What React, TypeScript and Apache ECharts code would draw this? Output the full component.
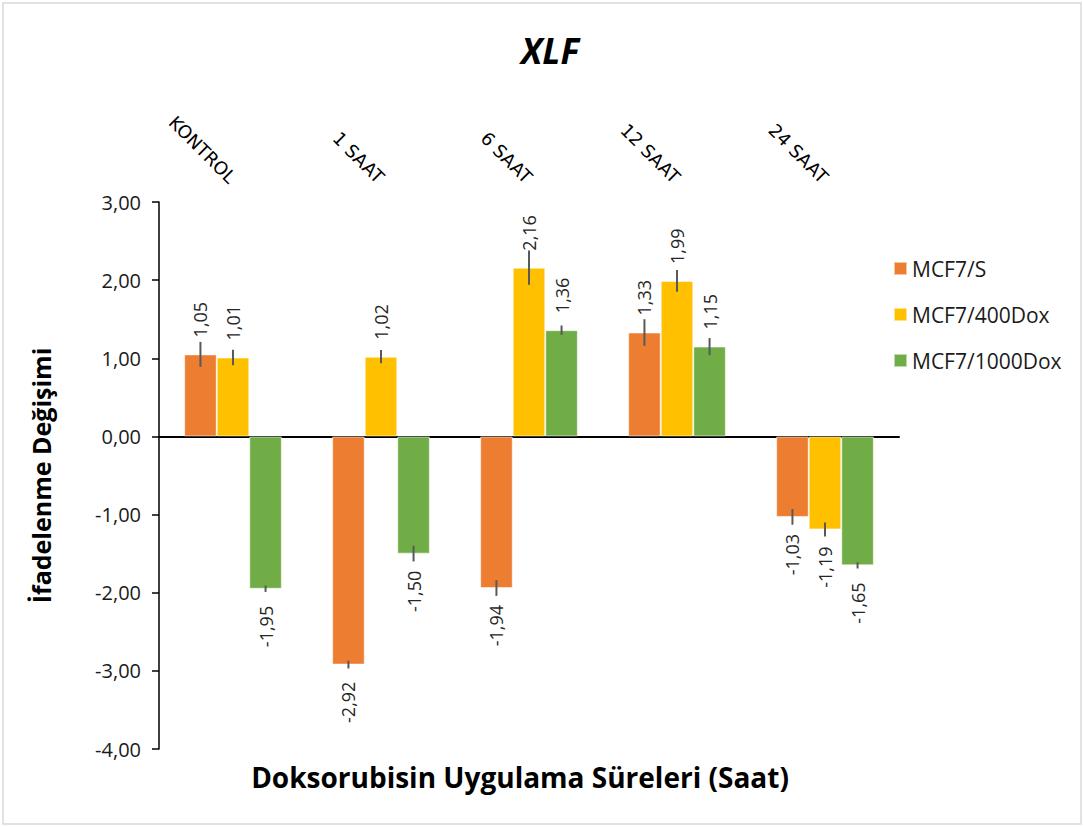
import React, { useEffect, useRef } from "react";
import * as echarts from "echarts";

const categories = ["KONTROL", "1 SAAT", "6 SAAT", "12 SAAT", "24 SAAT"];
const seriesNames = ["MCF7/S", "MCF7/400Dox", "MCF7/1000Dox"];
const colors = ["#ED7D31", "#FFC000", "#70AD47"];
const valuesS = [1.05, -2.92, -1.94, 1.33, -1.03];
const values400 = [1.01, 1.02, 2.16, 1.99, -1.19];
const values1000 = [-1.95, -1.5, 1.36, 1.15, -1.65];
const errS = [0.16, 0.05, 0.1, 0.17, 0.1];
const err400 = [0.1, 0.085, 0.22, 0.14, 0.09];
const err1000 = [0.04, 0.1, 0.06, 0.11, 0.04];
const yTicks = { min: -4, max: 3, interval: 1 };

const allValues = [valuesS, values400, values1000];
const allErrors = [errS, err400, err1000];
const GAP = 0.34;

const fmt = (v: number) => v.toFixed(2).replace(".", ",");

export default function App() {
  const ref = useRef<HTMLDivElement>(null);
  useEffect(() => {
    if (!ref.current) return;
    const chart = echarts.init(ref.current, undefined, { renderer: "svg" });
    const barSeries = allValues.map((vals, si) => ({
      type: "bar",
      name: seriesNames[si],
      xAxisIndex: 0,
      yAxisIndex: 0,
      barGap: "0%",
      barCategoryGap: GAP * 100 + "%",
      itemStyle: { color: colors[si], borderColor: "rgba(255,255,255,0.55)", borderWidth: 1 },
      z: 2,
      label: {
        show: true,
        rotate: 90,
        distance: 17,
        fontFamily: "Open Sans",
        fontSize: 18,
        color: "#262626",
        verticalAlign: "middle",
        formatter: (p: any) => fmt(p.value),
      },
      data: vals.map((v) => ({
        value: v,
        label: v >= 0 ? { position: "top", align: "left" } : { position: "bottom", align: "right" },
      })),
    }));
    const errSeries = allValues.map((vals, si) => ({
      type: "custom",
      name: seriesNames[si] + " err",
      xAxisIndex: 0,
      yAxisIndex: 0,
      z: 5,
      silent: true,
      clip: false,
      encode: { x: 0, y: [1, 2] },
      renderItem: (params: any, api: any) => {
        const ci = api.value(0);
        const lo = api.coord([ci, api.value(1)]);
        const hi = api.coord([ci, api.value(2)]);
        const band = api.size([1, 0])[0];
        const bw = (band * (1 - GAP)) / 3;
        const x = lo[0] + (si - 1) * bw;
        return {
          type: "line",
          shape: { x1: x, y1: lo[1], x2: x, y2: hi[1] },
          style: { stroke: "#595959", lineWidth: 2 },
        };
      },
      data: vals.map((v, i) => [i, v - allErrors[si][i], v + allErrors[si][i]]),
    }));
    chart.setOption({
      animation: false,
      backgroundColor: "#ffffff",
      title: {
        text: "XLF",
        left: 545,
        top: 28,
        textAlign: "center",
        textStyle: { fontFamily: "Open Sans", fontSize: 35, fontWeight: "bold", fontStyle: "italic", color: "#000" },
      },
      legend: {
        data: seriesNames,
        orient: "vertical",
        left: 888,
        top: 253,
        itemWidth: 13,
        itemHeight: 13,
        itemGap: 25,
        icon: "rect",
        textStyle: { fontFamily: "Open Sans", fontSize: 21, color: "#1a1a1a" },
      },
      grid: { left: 159, right: 185, top: 202, bottom: 78, containLabel: false },
      xAxis: [
        {
          type: "category",
          data: categories,
          position: "top",
          axisLine: { show: false, onZero: false },
          axisTick: { show: false },
          axisLabel: {
            rotate: 45,
            margin: 22,
            align: "right",
            fontFamily: "DejaVu Sans",
            fontSize: 18,
            color: "#000",
          },
        },
        {
          type: "category",
          data: categories,
          position: "bottom",
          axisLine: { show: true, onZero: true, lineStyle: { color: "#000", width: 2 } },
          axisTick: { show: false },
          axisLabel: { show: false },
        },
      ],
      yAxis: {
        type: "value",
        min: yTicks.min,
        max: yTicks.max,
        interval: yTicks.interval,
        name: "İfadelenme Değişimi",
        nameLocation: "middle",
        nameGap: 106,
        nameTextStyle: { fontFamily: "Open Sans", fontSize: 25, fontWeight: "bold", color: "#000" },
        axisLine: { show: true, lineStyle: { color: "#000", width: 1.5 } },
        axisTick: { show: true, length: 7, lineStyle: { color: "#000", width: 1.5 } },
        splitLine: { show: false },
        axisLabel: {
          margin: 18,
          fontFamily: "Open Sans",
          fontSize: 20,
          color: "#1a1a1a",
          formatter: (v: number) => fmt(v),
        },
      },
      graphic: [
        {
          type: "rect",
          shape: { x: 3, y: 3, width: 1078, height: 821 },
          style: { fill: "none", stroke: "#d9d9d9", lineWidth: 1.5 },
          silent: true,
        },
        {
          type: "text",
          x: 520,
          y: 777,
          style: {
            text: "Doksorubisin Uygulama Süreleri (Saat)",
            fontFamily: "Open Sans",
            fontSize: 28,
            fontWeight: "bold",
            fill: "#000",
            align: "center",
            verticalAlign: "middle",
          },
        },
      ],
      series: [...barSeries, ...errSeries],
    });
    return () => chart.dispose();
  }, []);
  return (
    <div
      ref={ref}
      style={{ position: "absolute", left: 0, top: 0, width: 1084, height: 827 }}
    />
  );
}
